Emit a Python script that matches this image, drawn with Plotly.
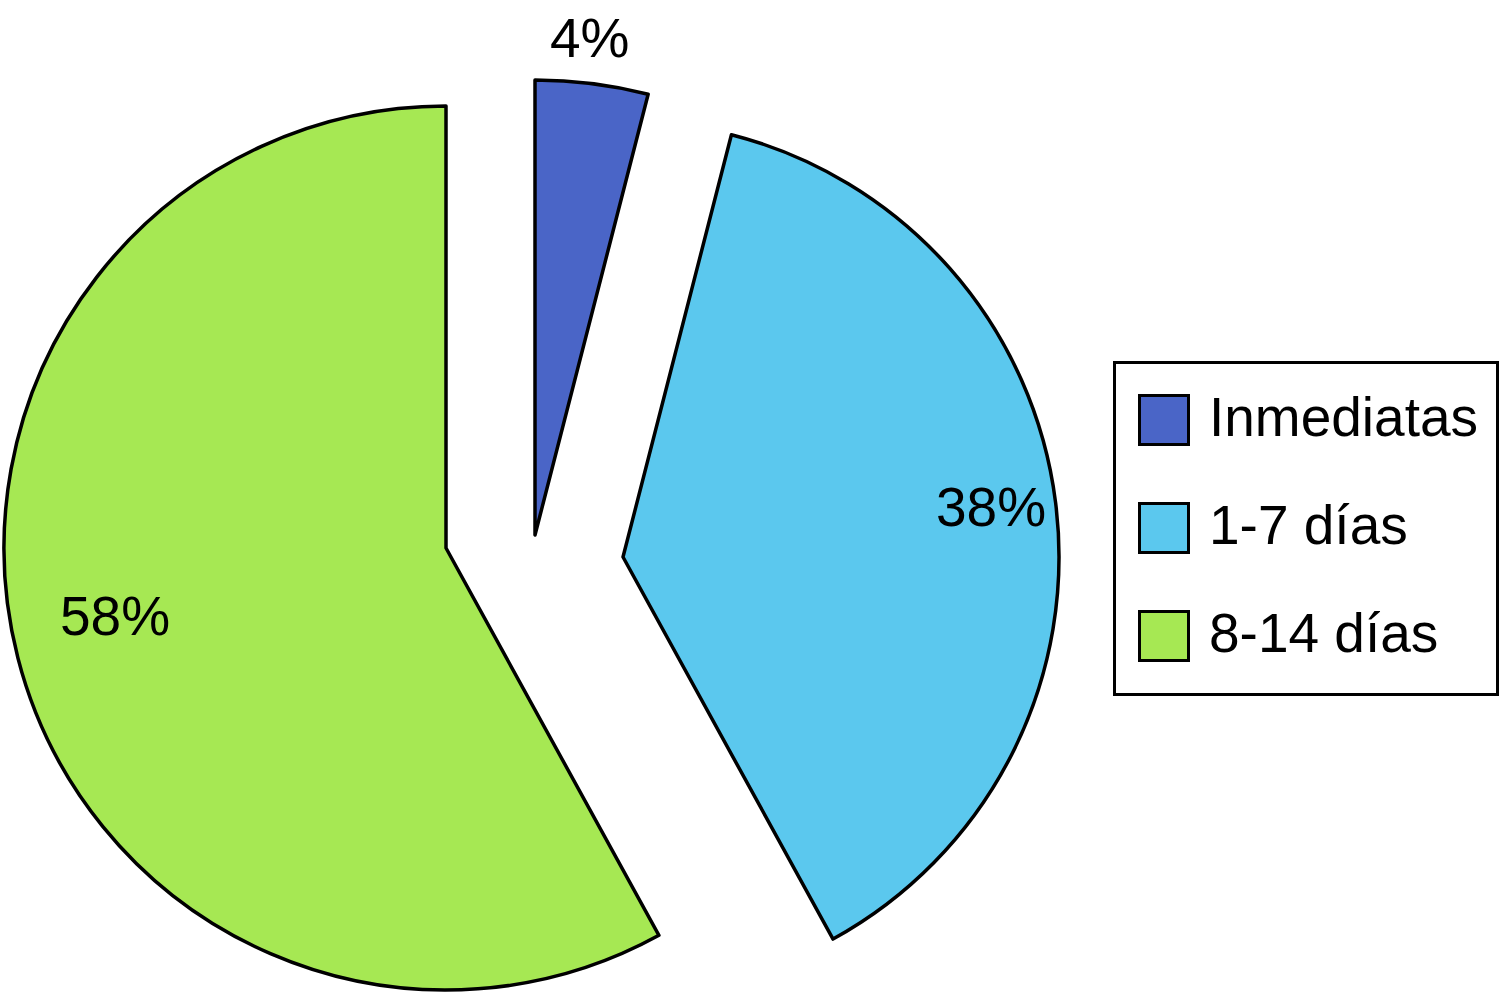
import math
import plotly.graph_objects as go

# ---- data ----
labels = ["Inmediatas", "1-7 días", "8-14 días"]
values = [4, 38, 58]
label_texts = [f"{v}%" for v in values]

# ---- style ----
W, H = 1500, 993
colors = ["#4a65c7", "#5bc8ee", "#a6e853"]
# per-slice pie geometry in pixels (center x, center y, radius) for the exploded look
geom = [(535, 535, 455), (623, 557, 436), (446, 548, 442)]
label_radius_frac = [1.10, 0.852, 0.765]
label_angle_frac = [0.44, 0.496, 0.513]
FONT = "Liberation Sans, Arial, Helvetica, sans-serif"
FS = 55
LW = 3.5
TRANSP = "rgba(0,0,0,0)"


def px_x(x):
    return x / W


def px_y(y):
    return 1 - y / H


fig = go.Figure()

total = sum(values)
starts = []
acc = 0
for v in values:
    starts.append(acc / total * 360)
    acc += v

for i, (cx, cy, r) in enumerate(geom):
    slice_colors = [colors[j] if j == i else TRANSP for j in range(len(values))]
    line_colors = ["black" if j == i else TRANSP for j in range(len(values))]
    fig.add_trace(go.Pie(
        labels=labels,
        values=values,
        sort=False,
        direction="clockwise",
        rotation=0,
        marker=dict(colors=slice_colors, line=dict(color=line_colors, width=LW)),
        textinfo="none",
        showlegend=False,
        hoverinfo="label+percent",
        domain=dict(x=[px_x(cx - r), px_x(cx + r)],
                    y=[max(0, px_y(cy + r)), min(1, px_y(cy - r))]),
    ))

# percentage labels placed from slice geometry
annotations = []
for i, (cx, cy, r) in enumerate(geom):
    span = values[i] / total * 360
    ang = math.radians(starts[i] + span * label_angle_frac[i])
    d = r * label_radius_frac[i]
    lx = cx + d * math.sin(ang)
    ly = cy - d * math.cos(ang)
    annotations.append(dict(
        x=px_x(lx), y=px_y(ly), xref="paper", yref="paper",
        text=label_texts[i], showarrow=False,
        xanchor="center", yanchor="middle",
        font=dict(family=FONT, size=FS, color="black"),
    ))

# legend box drawn as shapes + text
shapes = [dict(type="rect", xref="paper", yref="paper",
               x0=px_x(1114.5), x1=px_x(1497.5), y0=px_y(694.5), y1=px_y(362.5),
               line=dict(color="black", width=3), fillcolor="white", layer="below")]
item_cy = [420, 528, 636]
sw = 49
for i, lab in enumerate(labels):
    yc = item_cy[i]
    shapes.append(dict(type="rect", xref="paper", yref="paper",
                       x0=px_x(1139.5), x1=px_x(1139.5 + sw),
                       y0=px_y(yc + sw / 2), y1=px_y(yc - sw / 2),
                       line=dict(color="black", width=3), fillcolor=colors[i]))
    annotations.append(dict(
        x=px_x(1207), y=px_y(yc - 3), xref="paper", yref="paper",
        text=lab, showarrow=False, xanchor="left", yanchor="middle",
        font=dict(family=FONT, size=FS, color="black"),
    ))

fig.update_layout(
    width=W, height=H,
    margin=dict(l=0, r=0, t=0, b=0),
    paper_bgcolor="white", plot_bgcolor="white",
    annotations=annotations, shapes=shapes,
    showlegend=False,
)

fig.write_html(
    "out.html",
    config={"displayModeBar": False},
    post_script="document.body.style.margin='0';document.body.style.overflow='hidden';",
)
